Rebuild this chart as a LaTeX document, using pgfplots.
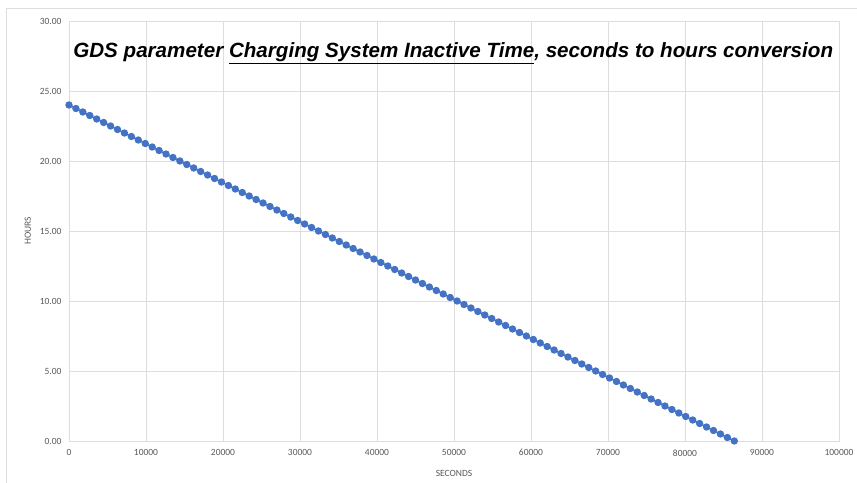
\documentclass[border=0pt]{standalone}
\usepackage{pgfplots}
\pgfplotsset{compat=1.18}
\usepackage{pgfplotstable}
\usepackage{fontspec}
\setmainfont{Carlito}
\newfontfamily\titlefont{Liberation Sans}

\definecolor{serieblue}{HTML}{4472C4}
\definecolor{gridgray}{HTML}{DDDDDD}
\definecolor{axisgray}{HTML}{BFBFBF}
\definecolor{textgray}{HTML}{595959}

% seconds vs. hours, one point every 900 s
\pgfplotstableread{
sec hours
0 24
900 23.75
1800 23.5
2700 23.25
3600 23
4500 22.75
5400 22.5
6300 22.25
7200 22
8100 21.75
9000 21.5
9900 21.25
10800 21
11700 20.75
12600 20.5
13500 20.25
14400 20
15300 19.75
16200 19.5
17100 19.25
18000 19
18900 18.75
19800 18.5
20700 18.25
21600 18
22500 17.75
23400 17.5
24300 17.25
25200 17
26100 16.75
27000 16.5
27900 16.25
28800 16
29700 15.75
30600 15.5
31500 15.25
32400 15
33300 14.75
34200 14.5
35100 14.25
36000 14
36900 13.75
37800 13.5
38700 13.25
39600 13
40500 12.75
41400 12.5
42300 12.25
43200 12
44100 11.75
45000 11.5
45900 11.25
46800 11
47700 10.75
48600 10.5
49500 10.25
50400 10
51300 9.75
52200 9.5
53100 9.25
54000 9
54900 8.75
55800 8.5
56700 8.25
57600 8
58500 7.75
59400 7.5
60300 7.25
61200 7
62100 6.75
63000 6.5
63900 6.25
64800 6
65700 5.75
66600 5.5
67500 5.25
68400 5
69300 4.75
70200 4.5
71100 4.25
72000 4
72900 3.75
73800 3.5
74700 3.25
75600 3
76500 2.75
77400 2.5
78300 2.25
79200 2
80100 1.75
81000 1.5
81900 1.25
82800 1
83700 0.75
84600 0.5
85500 0.25
86400 0
}\convtable

\begin{document}
\begin{tikzpicture}
\path[use as bounding box] (0,0) rectangle (857bp,483bp);
\draw[gridgray, line width=0.8bp] (6bp,0) -- (6bp,475bp) -- (857bp,475bp);
\begin{axis}[
    at={(69bp,42bp)}, anchor=south west,
    scale only axis,
    width=770bp, height=420bp,
    xmin=0, xmax=100000,
    ymin=0, ymax=30,
    xtick={0,10000,...,100000},
    ytick={0,5,...,30},
    major tick length=0pt,
    grid=major,
    grid style={gridgray, line width=0.8bp},
    axis line style={gridgray, line width=0.8bp},
    x axis line style={axisgray},
    tick label style={font=\fontsize{9.5bp}{11bp}\selectfont, text=textgray},
    /pgf/number format/assume math mode=true,
    xticklabel style={yshift=-5bp, /pgf/number format/.cd, fixed, 1000 sep={}},
    yticklabel style={xshift=-4bp, /pgf/number format/.cd, fixed, fixed zerofill, precision=2},
    scaled x ticks=false,
    xlabel={SECONDS},
    ylabel={HOURS},
    label style={font=\fontsize{9.5bp}{11bp}\selectfont, text=textgray},
    xlabel style={yshift=-7bp},
    ylabel style={yshift=2bp},
]
\addplot[serieblue, line width=1.5bp, mark=*, mark size=2.9bp,
    mark options={fill=serieblue, draw=serieblue}]
    table[x=sec, y=hours] {\convtable};
\node[font=\titlefont\bfseries\itshape\fontsize{20.6bp}{23bp}\selectfont]
    at (rel axis cs:0.499,0.923)
    {GDS parameter \underline{Charging System Inactive Time}, seconds to hours conversion};
\end{axis}
\end{tikzpicture}
\end{document}
